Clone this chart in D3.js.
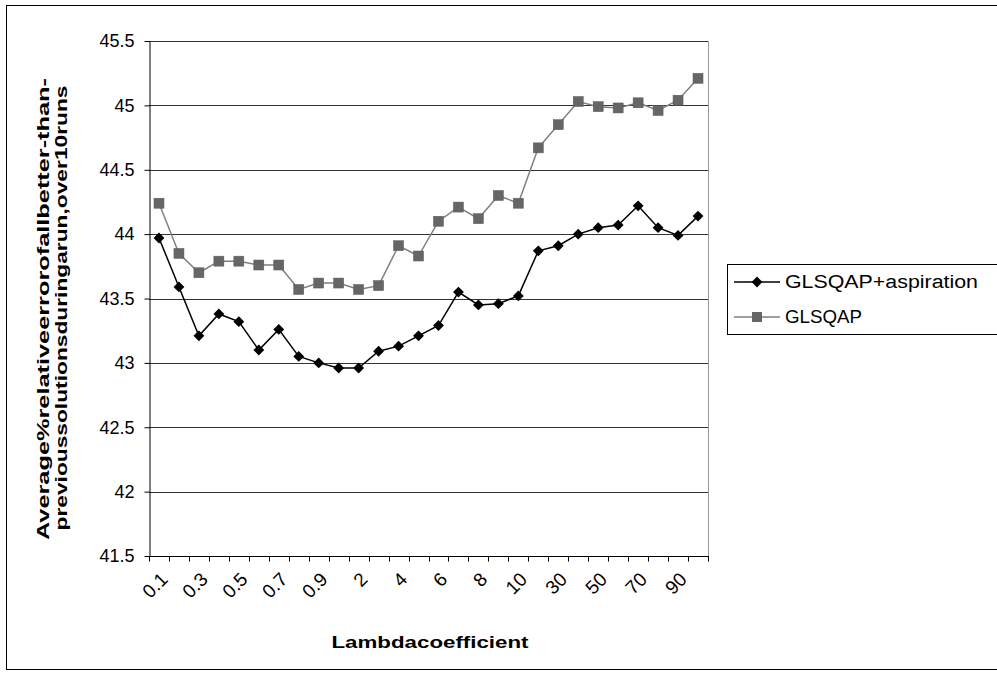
<!DOCTYPE html>
<html><head><meta charset="utf-8">
<script src="https://cdn.jsdelivr.net/npm/d3@7/dist/d3.min.js"></script>
<style>body{margin:0;background:#fff;}svg{display:block;font-family:Arial,"Liberation Sans",sans-serif;}</style>
</head><body><svg id="c" width="997" height="675"></svg>
<script>
const categories = ["0.1","0.2","0.3","0.4","0.5","0.6","0.7","0.8","0.9","1","2","3","4","5","6","7","8","9","10","20","30","40","50","60","70","80","90","100"];
const shownLabels = ["0.1","0.3","0.5","0.7","0.9","2","4","6","8","10","30","50","70","90"];
const aspiration = [43.97,43.59,43.21,43.38,43.32,43.10,43.26,43.05,43.00,42.96,42.96,43.09,43.13,43.21,43.29,43.55,43.45,43.46,43.52,43.87,43.91,44.00,44.05,44.07,44.22,44.05,43.99,44.14];
const glsqap = [44.24,43.85,43.70,43.79,43.79,43.76,43.76,43.57,43.62,43.62,43.57,43.60,43.91,43.83,44.10,44.21,44.12,44.30,44.24,44.67,44.85,45.03,44.99,44.98,45.02,44.96,45.04,45.21];
const yTicks = [41.5,42,42.5,43,43.5,44,44.5,45,45.5];
const seriesNames = ["GLSQAP+aspiration","GLSQAP"];

const svg = d3.select("#c");
svg.append("rect").attr("x",6.5).attr("y",5.5).attr("width",1000).attr("height",664)
  .attr("fill","none").attr("stroke","#000").attr("stroke-width",1);

const L=149, R=708, T=41, B=556;
const x = d3.scaleBand().domain(categories).range([L,R]);
const y = d3.scaleLinear().domain([41.5,45.5]).range([B,T]);

// gridlines
svg.append("g").selectAll("line").data(yTicks.slice(1)).join("line")
  .attr("x1",L).attr("x2",R).attr("y1",d=>Math.round(y(d))+0.5).attr("y2",d=>Math.round(y(d))+0.5)
  .attr("stroke","#333").attr("stroke-width",1);
svg.append("line").attr("x1",R+0.5).attr("x2",R+0.5).attr("y1",T).attr("y2",B).attr("stroke","#999");

// y axis
const yAxis = d3.axisLeft(y).tickValues(yTicks).tickSize(5).tickSizeOuter(0).tickPadding(10).tickFormat(d=>String(d));
const gy = svg.append("g").attr("transform",`translate(${L+0.5},0)`).call(yAxis);
gy.selectAll("text").attr("font-size",18).attr("fill","#000").attr("font-family","Arial, Liberation Sans, sans-serif");
gy.select(".domain").attr("stroke","#000");
gy.selectAll(".tick line").attr("stroke","#000");

// x axis
const gx = svg.append("g").attr("transform",`translate(0,${B+0.5})`);
gx.append("line").attr("x1",L).attr("x2",R+1).attr("stroke","#000");
const bounds = categories.map(c=>x(c)).concat([R]);
gx.selectAll("line.t").data(bounds).join("line").attr("class","t")
  .attr("x1",d=>Math.round(d)+0.5).attr("x2",d=>Math.round(d)+0.5).attr("y1",0).attr("y2",5).attr("stroke","#000");
gx.selectAll("text").data(shownLabels).join("text")
  .attr("transform",d=>`translate(${x(d)+x.bandwidth()/2+10},${24}) rotate(-45)`)
  .attr("text-anchor","end").attr("font-size",19).attr("fill","#000").text(d=>d);

// lines
const line = d3.line().x((d,i)=>x(categories[i])+x.bandwidth()/2).y(d=>y(d));
svg.append("path").datum(glsqap).attr("d",line).attr("fill","none").attr("stroke","#7f7f7f").attr("stroke-width",1.5);
svg.append("path").datum(aspiration).attr("d",line).attr("fill","none").attr("stroke","#000").attr("stroke-width",1.5);

// markers
svg.append("g").selectAll("rect").data(glsqap).join("rect")
  .attr("x",(d,i)=>x(categories[i])+x.bandwidth()/2-5).attr("y",d=>y(d)-5)
  .attr("width",10).attr("height",10).attr("fill","#666").attr("stroke","#5a5a5a").attr("stroke-width",0.5);
const diamond = d3.symbol().type(d3.symbolDiamond2).size(75);
svg.append("g").selectAll("path").data(aspiration).join("path")
  .attr("d",diamond)
  .attr("transform",(d,i)=>`translate(${x(categories[i])+x.bandwidth()/2},${y(d)})`)
  .attr("fill","#000");

// axis titles
svg.append("text").attr("x",430).attr("y",648).attr("text-anchor","middle")
  .attr("font-size",17).attr("font-weight","bold")
  .attr("textLength",197).attr("lengthAdjust","spacingAndGlyphs").text("Lambdacoefficient");
svg.append("text").attr("transform","translate(49,309) rotate(-90)").attr("text-anchor","middle")
  .attr("font-size",17).attr("font-weight","bold")
  .attr("textLength",462).attr("lengthAdjust","spacingAndGlyphs").text("Average%relativeerrorofallbetter-than-");
svg.append("text").attr("transform","translate(67,308) rotate(-90)").attr("text-anchor","middle")
  .attr("font-size",17).attr("font-weight","bold")
  .attr("textLength",445).attr("lengthAdjust","spacingAndGlyphs").text("previoussolutionsduringarun,over10runs");

// legend
const lg = svg.append("g");
lg.append("rect").attr("x",727.5).attr("y",264.5).attr("width",280).attr("height",70)
  .attr("fill","#fff").attr("stroke","#000");
const rowsY=[282,317];
const colors=["#000","#7f7f7f"];
const legLen=[193,77];
seriesNames.forEach((n,i)=>{
  lg.append("line").attr("x1",734).attr("x2",780).attr("y1",rowsY[i]).attr("y2",rowsY[i]).attr("stroke",colors[i]).attr("stroke-width",1.5);
  if(i===0){
    lg.append("path").attr("d",diamond).attr("transform",`translate(757,${rowsY[i]})`).attr("fill","#000");
  } else {
    lg.append("rect").attr("x",752).attr("y",rowsY[i]-5).attr("width",10).attr("height",10).attr("fill","#666");
  }
  lg.append("text").attr("x",785).attr("y",rowsY[i]+6).attr("font-size",18)
    .attr("textLength",legLen[i]).attr("lengthAdjust","spacingAndGlyphs").text(n);
});
</script></body></html>
